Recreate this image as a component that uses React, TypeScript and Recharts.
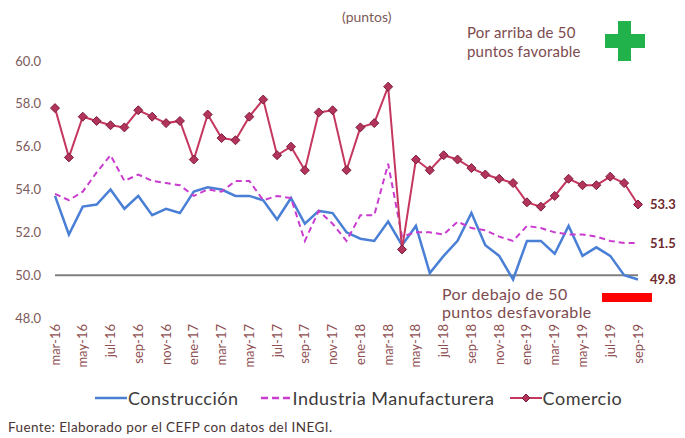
import React from "react";
import { LineChart, Line, XAxis, YAxis, ReferenceLine } from "recharts";

// Índices de confianza empresarial, mar-16 a sep-19 (puntos)
const months = [
  "mar-16", "abr-16", "may-16", "jun-16", "jul-16", "ago-16", "sep-16", "oct-16", "nov-16", "dic-16",
  "ene-17", "feb-17", "mar-17", "abr-17", "may-17", "jun-17", "jul-17", "ago-17", "sep-17", "oct-17", "nov-17", "dic-17",
  "ene-18", "feb-18", "mar-18", "abr-18", "may-18", "jun-18", "jul-18", "ago-18", "sep-18", "oct-18", "nov-18", "dic-18",
  "ene-19", "feb-19", "mar-19", "abr-19", "may-19", "jun-19", "jul-19", "ago-19", "sep-19",
];

const construccion = [
  53.7, 51.9, 53.2, 53.3, 54.0, 53.1, 53.7, 52.8, 53.1, 52.9,
  53.9, 54.1, 54.0, 53.7, 53.7, 53.5, 52.6, 53.6, 52.4, 53.0, 52.9, 52.0,
  51.7, 51.6, 52.5, 51.4, 52.3, 50.1, 50.9, 51.6, 52.9, 51.4, 50.9, 49.8,
  51.6, 51.6, 51.0, 52.3, 50.9, 51.3, 50.9, 50.0, 49.8,
];

const industria = [
  53.8, 53.5, 53.9, 54.8, 55.6, 54.4, 54.7, 54.4, 54.3, 54.2,
  53.7, 54.0, 53.9, 54.4, 54.4, 53.5, 53.7, 53.6, 51.6, 53.0, 52.4, 51.6,
  52.8, 52.8, 55.2, 51.8, 52.0, 52.0, 51.9, 52.5, 52.2, 52.1, 51.8, 51.6,
  52.3, 52.2, 52.0, 51.9, 51.9, 51.8, 51.6, 51.5, 51.5,
];

const comercio = [
  57.8, 55.5, 57.4, 57.2, 57.0, 56.9, 57.7, 57.4, 57.1, 57.2,
  55.4, 57.5, 56.4, 56.3, 57.4, 58.2, 55.6, 56.0, 54.9, 57.6, 57.7, 54.9,
  56.9, 57.1, 58.8, 51.2, 55.4, 54.9, 55.6, 55.4, 55.0, 54.7, 54.5, 54.3,
  53.4, 53.2, 53.7, 54.5, 54.2, 54.2, 54.6, 54.3, 53.3,
];

const yTicks = [48, 50, 52, 54, 56, 58, 60];

const data = months.map((m, i) => ({
  month: m,
  construccion: construccion[i],
  industria: industria[i],
  comercio: comercio[i],
}));

const FONT = "Lato, 'Open Sans', sans-serif";
const BLUE = "#4a7fd6";
const MAGENTA = "#c93ccf";
const CRIMSON = "#c5375f";
const LAST = months.length - 1;

function MonthTick({ x, y, payload }: any) {
  return (
    <text
      x={x}
      y={y}
      transform={`rotate(-90 ${x} ${y})`}
      textAnchor="end"
      dy="0.35em"
      fontSize={13}
      fontFamily={FONT}
      fill="#8e4f52"
    >
      {payload.value}
    </text>
  );
}

function Diamond({ cx, cy, index }: any) {
  if (cx == null || cy == null) return <g key={index} />;
  const r = 4.5;
  return (
    <polygon
      key={index}
      points={`${cx},${cy - r} ${cx + r},${cy} ${cx},${cy + r} ${cx - r},${cy}`}
      fill="#b3345a"
      stroke="#7c1d3c"
      strokeWidth={1}
    />
  );
}

const endLabel = (props: any) => {
  const { x, y, index, value } = props;
  if (index !== LAST) return null;
  return (
    <text
      x={x + 12}
      y={y}
      dy="0.35em"
      fontSize={13}
      fontWeight={700}
      fontFamily={FONT}
      fill="#6e2a2e"
    >
      {Number(value).toFixed(1)}
    </text>
  );
};

function LegendItem({
  kind,
  label,
  gapAfter,
}: {
  kind: "solid" | "dash" | "marker";
  label: string;
  gapAfter: number;
}) {
  return (
    <div style={{ display: "flex", alignItems: "center", marginRight: gapAfter }}>
      <svg width={32} height={12} style={{ marginRight: 1 }}>
        {kind === "solid" && <line x1={0} y1={6} x2={32} y2={6} stroke={BLUE} strokeWidth={2.5} />}
        {kind === "dash" && (
          <line x1={1} y1={6} x2={32} y2={6} stroke={MAGENTA} strokeWidth={2.5} strokeDasharray="7 4" />
        )}
        {kind === "marker" && (
          <g>
            <line x1={0} y1={6} x2={32} y2={6} stroke={CRIMSON} strokeWidth={2} />
            <polygon points="16,2 20,6 16,10 12,6" fill="#b3345a" stroke="#7c1d3c" strokeWidth={1} />
          </g>
        )}
      </svg>
      <span>{label}</span>
    </div>
  );
}

export default function App() {
  return (
    <div
      style={{
        position: "absolute",
        left: 0,
        top: 0,
        width: 685,
        height: 438,
        background: "#ffffff",
        fontFamily: FONT,
        overflow: "hidden",
      }}
    >
      <LineChart
        width={685}
        height={438}
        data={data}
        margin={{ top: 61, right: 47, bottom: 60, left: 10 }}
      >
        <XAxis
          dataKey="month"
          interval={1}
          height={60}
          axisLine={false}
          tickLine={false}
          tickMargin={0}
          tick={<MonthTick />}
        />
        <YAxis
          domain={[48, 60]}
          ticks={yTicks}
          width={45}
          axisLine={false}
          tickLine={false}
          tickMargin={8}
          tickFormatter={(v: number) => v.toFixed(1)}
          tick={{ fontSize: 13, fill: "#7d5a5a", fontFamily: FONT }}
        />
        <ReferenceLine y={50} stroke="#7f7f7f" strokeWidth={2} />
        <Line
          type="linear"
          dataKey="construccion"
          name="Construcción"
          stroke={BLUE}
          strokeWidth={2.5}
          dot={false}
          isAnimationActive={false}
          label={endLabel}
        />
        <Line
          type="linear"
          dataKey="industria"
          name="Industria Manufacturera"
          stroke={MAGENTA}
          strokeWidth={2}
          strokeDasharray="6 4"
          dot={false}
          isAnimationActive={false}
          label={endLabel}
        />
        <Line
          type="linear"
          dataKey="comercio"
          name="Comercio"
          stroke={CRIMSON}
          strokeWidth={2}
          dot={<Diamond />}
          isAnimationActive={false}
          label={endLabel}
        />
      </LineChart>

      <div style={{ position: "absolute", left: 342, top: 8, fontSize: 14, color: "#7d5a5a" }}>(puntos)</div>

      <div
        style={{
          position: "absolute",
          left: 467,
          top: 23,
          fontSize: 15,
          letterSpacing: 0.2,
          lineHeight: "19px",
          color: "#7d4b4e",
        }}
      >
        Por arriba de 50
        <br />
        puntos favorable
      </div>
      <svg style={{ position: "absolute", left: 605, top: 21 }} width={40} height={40}>
        <rect x={13} y={0} width={13} height={40} fill="#22b24c" />
        <rect x={0} y={13} width={40} height={14} fill="#22b24c" />
      </svg>

      <div
        style={{
          position: "absolute",
          left: 442,
          top: 285,
          fontSize: 16,
          letterSpacing: 0.4,
          lineHeight: "18px",
          color: "#7d4b4e",
        }}
      >
        Por debajo de 50
        <br />
        puntos desfavorable
      </div>
      <div style={{ position: "absolute", left: 602, top: 293, width: 50, height: 9, background: "#ff0000" }} />

      <div
        style={{
          position: "absolute",
          left: 95,
          top: 387,
          display: "flex",
          fontSize: 18,
          letterSpacing: 0.5,
          color: "#3d3a3a",
          lineHeight: "22px",
        }}
      >
        <LegendItem kind="solid" label="Construcción" gapAfter={21} />
        <LegendItem kind="dash" label="Industria Manufacturera" gapAfter={15} />
        <LegendItem kind="marker" label="Comercio" gapAfter={0} />
      </div>

      <div
        style={{
          position: "absolute",
          left: 8,
          top: 419,
          fontSize: 13.5,
          letterSpacing: 0.4,
          color: "#4a3535",
        }}
      >
        Fuente: Elaborado por el CEFP con datos del INEGI.
      </div>
    </div>
  );
}
